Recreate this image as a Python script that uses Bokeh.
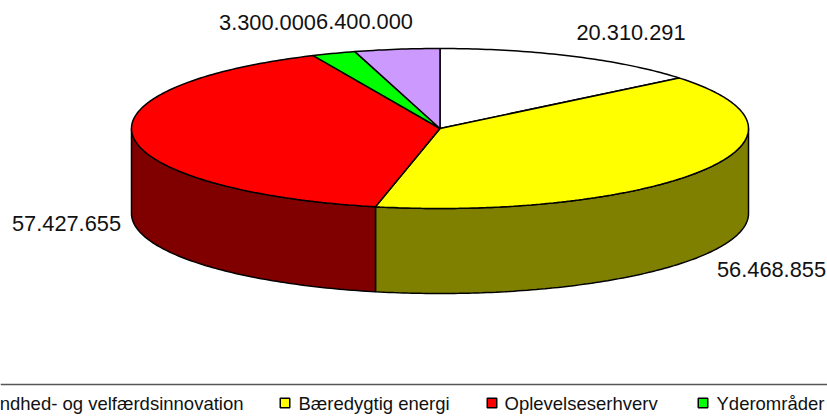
import math
from bokeh.plotting import figure
from bokeh.models import Range1d
from bokeh.core.properties import value
from bokeh.embed import file_html
from bokeh.resources import INLINE

categories = ["Sundhed- og velfærdsinnovation", "Bæredygtig energi", "Oplevelseserhverv", "Yderområder"]
amounts = [20310291, 56468855, 57427655, 3300000, 6400000]
labels = ["20.310.291", "56.468.855", "57.427.655", "3.300.000", "6.400.000"]
top_colors = ["#FFFFFF", "#FFFF00", "#FF0000", "#00FF00", "#CC99FF"]
side_colors = ["#808080", "#808000", "#800000", "#008000", "#664C80"]

W, H = 827, 417
CX, CY, RX, RY, DEPTH = 439.5, 128, 308.5, 80, 85

p = figure(width=W, height=H, output_backend="svg", toolbar_location=None,
           x_range=Range1d(0, W), y_range=Range1d(H, 0), min_border=0,
           margin=(0, 0, 0, 0), outline_line_color=None)
p.axis.visible = False
p.grid.visible = False
p.background_fill_color = "white"

total = sum(amounts)
def pt(a, dy=0):
    return CX + RX * math.sin(a), CY - RY * math.cos(a) + dy

def arc(a0, a1, dy=0):
    n = max(2, int(abs(a1 - a0) / 0.015))
    pts = [pt(a0 + (a1 - a0) * i / n, dy) for i in range(n + 1)]
    return [q[0] for q in pts], [q[1] for q in pts]

edges = [0.0]
for v in amounts:
    edges.append(edges[-1] + v / total * 2 * math.pi)

# walls: only the front half (90..270 degrees) is visible
for i in range(len(amounts)):
    a0, a1 = max(edges[i], math.pi / 2), min(edges[i + 1], 3 * math.pi / 2)
    if a1 > a0:
        xt, yt = arc(a0, a1)
        xb, yb = arc(a0, a1, DEPTH)
        p.patch(xt + xb[::-1], yt + yb[::-1], fill_color=side_colors[i],
                line_color="black", line_width=1.5)

# top faces
for i in range(len(amounts)):
    xa, ya = arc(edges[i], edges[i + 1])
    p.patch([CX] + xa, [CY] + ya, fill_color=top_colors[i],
            line_color="black", line_width=1.5)

# data labels
label_pos = [(630.5, 32), (771, 269), (66, 223), (267, 22), (364, 21)]
for t, (x, y) in zip(labels, label_pos):
    p.text([x], [y], text=[t], text_font=value("Liberation Sans"), text_font_size="21.8px",
           text_align="center", text_baseline="middle", text_color="#111111")

# legend
p.segment([0], [384], [W], [384], line_color="#555555", line_width=1.5)
ly = 402.5
swatch_x = [-30, 284.5, 491.5, 702.5]
text_x = [243, 298, 504, 716]
aligns = ["right", "left", "left", "left"]
for i in range(4):
    p.rect([swatch_x[i]], [ly], width=9.5, height=9.5, fill_color=top_colors[i],
           line_color="black", line_width=1.5)
    p.text([text_x[i]], [ly], text=[categories[i]], text_font=value("Liberation Sans"),
           text_font_size="18.5px", text_align=aligns[i], text_baseline="middle", text_color="#111111")

open("out.html", "w").write(file_html(p, INLINE))
